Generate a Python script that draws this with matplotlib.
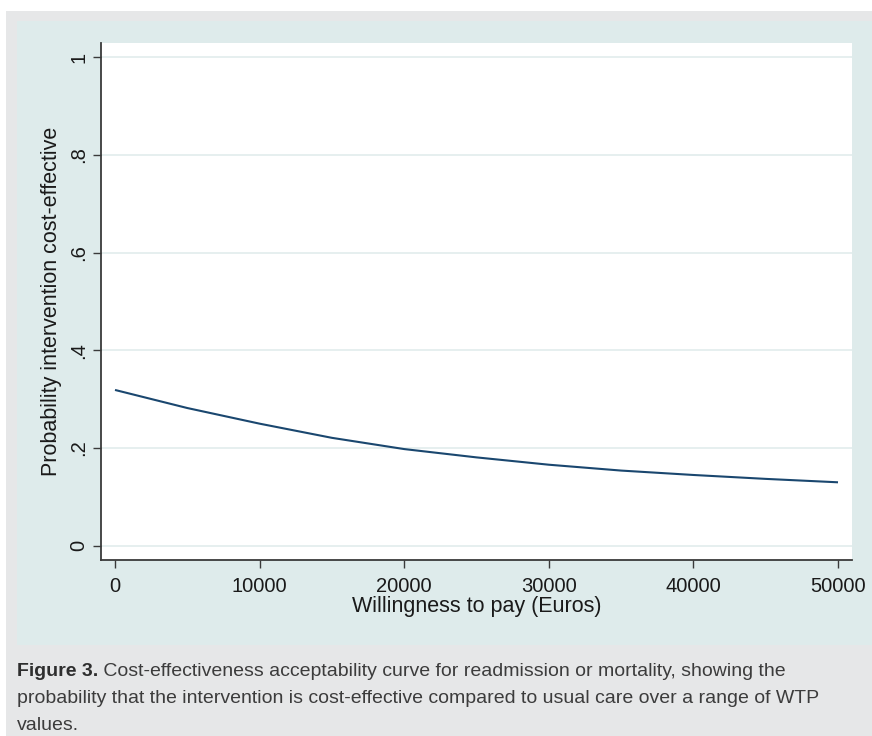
import matplotlib
matplotlib.use("Agg")
import matplotlib.pyplot as plt
from matplotlib.patches import Rectangle
from matplotlib.text import Annotation

# ---- data ----
wtp = [0, 5000, 10000, 15000, 20000, 25000, 30000, 35000, 40000, 45000, 50000]
prob_ce = [0.319, 0.282, 0.250, 0.221, 0.198, 0.181, 0.166, 0.154, 0.145, 0.137, 0.130]
x_ticks = [0, 10000, 20000, 30000, 40000, 50000]
x_tick_labels = ["0", "10000", "20000", "30000", "40000", "50000"]
y_ticks = [0, 0.2, 0.4, 0.6, 0.8, 1.0]
y_tick_labels = ["0", ".2", ".4", ".6", ".8", "1"]
x_title = "Willingness to pay (Euros)"
y_title = "Probability intervention cost-effective"
caption_bold = "Figure 3."
caption_line1 = " Cost-effectiveness acceptability curve for readmission or mortality, showing the"
caption_line2 = "probability that the intervention is cost-effective compared to usual care over a range of WTP"
caption_line3 = "values."

W, H = 872, 736
plt.rcParams['font.family'] = ['Liberation Sans', 'DejaVu Sans']

fig = plt.figure(figsize=(W / 100, H / 100), dpi=100)
fig.patch.set_facecolor("white")

# outer grey caption box
fig.patches.append(Rectangle((6 / W, 0), 1 - 6 / W, 1 - 11 / H, transform=fig.transFigure,
                             facecolor="#e6e7e8", edgecolor="none", zorder=-2))
# Stata graph region
fig.patches.append(Rectangle((17 / W, 1 - 645 / H), 1 - 17 / W, (645 - 21) / H,
                             transform=fig.transFigure, facecolor="#deebeb",
                             edgecolor="none", zorder=-1))

left, right, top, bottom = 101, 852, 43, 560
ax = fig.add_axes([left / W, 1 - bottom / H, (right - left) / W, (bottom - top) / H])
ax.set_facecolor("white")

ax.plot(wtp, prob_ce, color="#1a476f", lw=1.5, solid_capstyle="butt", zorder=3)

ax.set_xlim(-968, 50968)
ax.set_ylim(-0.029, 1.029)
ax.set_xticks(x_ticks)
ax.set_xticklabels(x_tick_labels)
ax.set_yticks(y_ticks)
ax.set_yticklabels(y_tick_labels)

ax.grid(axis="y", color="#e4eeee", lw=1.3)
ax.grid(axis="x", visible=False)
ax.set_axisbelow(True)

for s in ["top", "right"]:
    ax.spines[s].set_visible(False)
for s in ["left", "bottom"]:
    ax.spines[s].set_color("#3a3a3a")
    ax.spines[s].set_linewidth(1.3)

ax.tick_params(axis="both", direction="out", length=6, width=1.0, color="#3a3a3a",
               labelsize=14.5, labelcolor="#1a1a1a")
ax.tick_params(axis="x", pad=6.5)
ax.tick_params(axis="y", pad=3, labelrotation=90)
for lab in ax.get_yticklabels():
    lab.set_va("center")

ax.set_xlabel(x_title, fontsize=15.5, color="#1a1a1a", va="baseline")
ax.xaxis.set_label_coords(0.5, -(612 - bottom) / (bottom - top))
ax.set_ylabel(y_title, fontsize=15.5, color="#1a1a1a", va="center", ha="center",
              rotation_mode="default")
ax.yaxis.set_label_coords(-(left - 52) / (right - left), 0.5)

# caption
CAP_FS = 14.0
cap_kw = dict(fontsize=CAP_FS, color="#3c3c3c")
t1 = fig.text(17 / W, 1 - 676.5 / H, caption_bold, fontweight="bold", va="baseline",
              ha="left", fontsize=CAP_FS, color="#2e2e2e")
a1 = Annotation(caption_line1, xy=(1, 0), xycoords=t1, va="bottom", ha="left",
                annotation_clip=False, **cap_kw)
a1.set_figure(fig)
fig.texts.append(a1)
fig.text(17 / W, 1 - 703 / H, caption_line2, va="baseline", ha="left", **cap_kw)
fig.text(17 / W, 1 - 729.5 / H, caption_line3, va="baseline", ha="left", **cap_kw)

fig.savefig("out.png", dpi=100)
